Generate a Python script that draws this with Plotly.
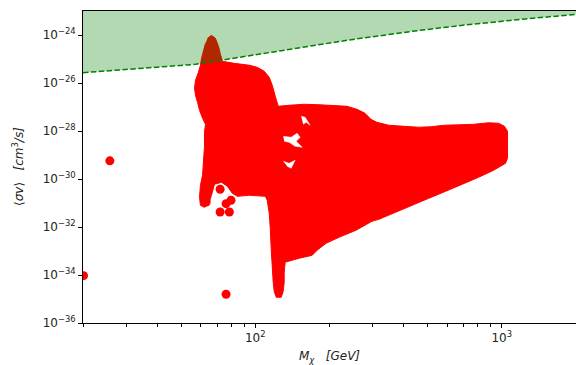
import math
import plotly.graph_objects as go

# ---- data -------------------------------------------------------------------
# Outline of the dense cloud of scan points (M_chi in GeV, <sigma v> in cm^3/s)
cloud_mass = [64.0, 66.4, 68.9, 70.9, 72.2, 73.6, 82.2, 94.6, 101.9, 108.7,
              113.9, 117.2, 120.5, 123.9, 137.2, 157.8, 181.5, 208.7, 235.5, 258.5,
              278.5, 294.5, 311.4, 348.3, 400.5, 460.4, 514.8, 581.0, 668.3, 768.6,
              883.5, 969.8, 1025, 1055, 1055, 1055, 1035, 925.6, 805.2, 700.1,
              592.0, 505.3, 431.4, 368.3, 317.3, 297.2, 256.1, 218.6, 193.7, 178.1,
              170.1, 150.6, 141.1, 132.2, 131.0, 131.0, 129.8, 127.4, 121.6, 119.3,
              118.2, 117.2, 116.1, 115.0, 113.9, 111.8, 109.8, 94.6, 84.6, 80.7,
              77.0, 72.9, 68.3, 66.4, 64.6, 62.2, 59.9, 59.4, 59.9, 61.1,
              61.6, 62.2, 62.2, 62.8, 61.1, 59.4, 58.3, 57.2, 56.7, 57.2,
              58.8, 59.9, 60.5, 61.6, 62.8]
cloud_sigmav = [7.3e-25, 9.7e-25, 7.3e-25, 3.4e-25, 1.57e-25, 8.0e-26, 6.6e-26, 5.5e-26, 4.5e-26, 3.07e-26,
                1.73e-26, 8.0e-27, 2.8e-27, 1.07e-27, 1.18e-27, 1.3e-27, 1.24e-27, 1.18e-27, 1.07e-27, 8.0e-28,
                5.5e-28, 3.07e-28, 2.3e-28, 1.73e-28, 1.57e-28, 1.43e-28, 1.5e-28, 1.73e-28, 1.81e-28, 1.9e-28,
                2.2e-28, 2.1e-28, 1.57e-28, 9.7e-29, 2.54e-29, 7.3e-30, 4.5e-30, 2.3e-30, 1.18e-30, 6.6e-31,
                3.07e-31, 1.57e-31, 8.0e-32, 4.1e-32, 2.1e-32, 1.73e-32, 7.3e-33, 3.73e-33, 2.1e-33, 1.07e-33,
                6.6e-34, 5.0e-34, 4.1e-34, 3.4e-34, 1.3e-34, 5.0e-35, 2.1e-35, 1.18e-35, 1.18e-35, 2.1e-35,
                5.0e-35, 1.57e-34, 1.07e-33, 8.8e-33, 3.73e-32, 1.3e-31, 1.9e-31, 2.1e-31, 1.9e-31, 2.54e-31,
                5.0e-31, 7.3e-31, 6.0e-31, 2.1e-31, 8.8e-32, 6.6e-32, 8.0e-32, 1.73e-31, 5.5e-31, 1.43e-30,
                6.0e-30, 2.3e-29, 8.8e-29, 1.9e-28, 3.4e-28, 7.3e-28, 1.57e-27, 3.07e-27, 6.0e-27, 1.3e-26,
                2.8e-26, 5.5e-26, 1.07e-25, 2.3e-25, 4.5e-25]

# Small empty gaps inside the cloud
gap1_mass = [129.8, 139.8, 147.8, 152.1, 146.5, 155.0, 145.1, 137.2, 131.0]
gap1_sigmav = [6.0e-29, 5.5e-29, 8.0e-29, 5.5e-29, 3.7e-29, 2.1e-29, 2.3e-29, 3.4e-29, 3.7e-29]
gap2_mass = [129.8, 137.2, 145.1, 141.1, 139.8, 134.7]
gap2_sigmav = [5.46e-30, 4.5e-30, 6.0e-30, 3.73e-30, 2.8e-30, 3.38e-30]
gap3_mass = [153.5, 159.3, 166.9, 160.8, 156.3]
gap3_sigmav = [4.1e-28, 3.73e-28, 1.73e-28, 2.3e-28, 1.9e-28]

# Isolated scan points
point_mass = [20.1, 25.7, 76.1, 72.0, 79.7, 76.1, 72.0, 78.5, 63.2]
point_sigmav = [9.4e-35, 5.7e-30, 1.57e-35, 3.73e-31, 1.3e-31, 9.4e-32, 4.2e-32, 4.2e-32, 1.1e-31]

# Upper limit (dashed line); region above it is excluded
limit_mass = [20, 57.2, 73.6, 145, 240, 443, 706, 1125, 2000]
limit_sigmav = [2.7e-26, 6.0e-26, 9.1e-26, 2.8e-25, 6.2e-25, 1.47e-24, 2.6e-24, 4.2e-24, 7.3e-24]

x_range = [20, 2000]
y_range = [1e-36, 1e-23]
y_tick_exponents = [-36, -34, -32, -30, -28, -26, -24]
x_tick_exponents = [2, 3]

# ---- figure --------------------------------------------------------------------
fig = go.Figure()

fig.add_trace(go.Scatter(x=cloud_mass, y=cloud_sigmav, mode="lines", fill="toself",
                         fillcolor="#ff0000", line=dict(color="#ff0000", width=1),
                         hoverinfo="skip", showlegend=False))
for gm, gs in [(gap1_mass, gap1_sigmav), (gap2_mass, gap2_sigmav), (gap3_mass, gap3_sigmav)]:
    fig.add_trace(go.Scatter(x=gm, y=gs, mode="lines", fill="toself", fillcolor="white",
                             line=dict(color="white", width=0.5), hoverinfo="skip",
                             showlegend=False))
fig.add_trace(go.Scatter(x=point_mass, y=point_sigmav, mode="markers",
                         marker=dict(color="#ff0000", size=9, line=dict(width=0)),
                         showlegend=False))

fig.add_trace(go.Scatter(x=limit_mass + [limit_mass[-1], limit_mass[0]],
                         y=limit_sigmav + [y_range[1], y_range[1]],
                         mode="lines", fill="toself", fillcolor="rgba(0,128,0,0.3)",
                         line=dict(width=0), hoverinfo="skip", showlegend=False))
fig.add_trace(go.Scatter(x=limit_mass, y=limit_sigmav, mode="lines",
                         line=dict(color="#008000", width=1.5, dash="5.5px,2.4px"),
                         showlegend=False))

tick_font = dict(family="DejaVu Sans", size=12, color="#222222")

fig.update_layout(
    width=576, height=365,
    margin=dict(l=83, r=0, t=11, b=42),
    paper_bgcolor="white", plot_bgcolor="white",
    showlegend=False,
    xaxis=dict(type="log", range=[math.log10(x_range[0]), math.log10(x_range[1])],
               showgrid=False, zeroline=False, showline=True, linecolor="black",
               linewidth=1, mirror=True, ticks="outside", ticklen=4, tickcolor="black",
               tickvals=[10 ** e for e in x_tick_exponents],
               ticktext=[f"10<sup>{e}</sup>" for e in x_tick_exponents],
               tickfont=tick_font,
               minor=dict(ticks="outside", ticklen=2.5, tickcolor="black",
                          tickvals=[20, 30, 40, 50, 60, 70, 80, 90, 200, 300, 400,
                                    500, 600, 700, 800, 900, 2000], showgrid=False)),
    yaxis=dict(type="log", range=[math.log10(y_range[0]), math.log10(y_range[1])],
               showgrid=False, zeroline=False, showline=True, linecolor="black",
               linewidth=1, ticks="outside", ticklen=4, tickcolor="black",
               tickvals=[10.0 ** e for e in y_tick_exponents],
               ticktext=[f"10<sup>\u2212{-e}</sup>" for e in y_tick_exponents],
               tickfont=tick_font),
)

fig.add_annotation(xref="paper", yref="paper", x=0.5, y=0, yshift=-34,
                   xanchor="center", yanchor="middle", showarrow=False,
                   text="<i>M</i><sub><i>\u03c7</i></sub>   <i>[GeV]</i>",
                   font=dict(family="DejaVu Sans", size=12, color="#222222"))
fig.add_annotation(xref="paper", yref="paper", x=0, y=0.5, xshift=-65,
                   xanchor="center", yanchor="middle", showarrow=False, textangle=-90,
                   text="\u27e8<i>\u03c3v</i>\u27e9   <i>[cm</i><sup>3</sup><i>/s]</i>",
                   font=dict(family="DejaVu Sans", size=12, color="#222222"))

# remove the browser's default page margin so the figure sits at the window origin
fig.write_html("out.html",
               config={"displayModeBar": False, "staticPlot": True},
               post_script="document.body.style.margin='0px';document.body.style.overflow='hidden';")
